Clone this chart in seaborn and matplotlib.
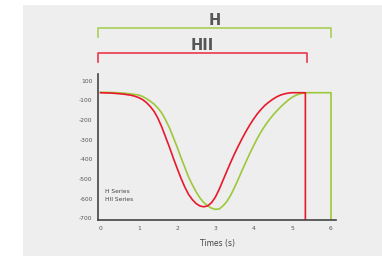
import matplotlib
matplotlib.use("Agg")
import matplotlib.pyplot as plt
import seaborn as sns
import pandas as pd
from matplotlib.patches import Rectangle

# ---- data ----
h_x = [0, 0.3, 0.6, 0.8, 0.9, 1.0, 1.1, 1.2, 1.3, 1.4, 1.5, 1.6, 1.7, 1.8, 1.9, 2.0,
       2.1, 2.2, 2.3, 2.4, 2.5, 2.6, 2.7, 2.8, 2.9, 3.0, 3.1, 3.2, 3.3, 3.4, 3.5, 3.6,
       3.7, 3.8, 3.9, 4.0, 4.1, 4.2, 4.3, 4.4, 4.5, 4.6, 4.7, 4.8, 4.9, 5.0, 5.1, 5.2,
       5.3, 5.4, 6.02, 6.02]
h_y = [-60, -61, -64, -68, -71, -74, -81, -92, -105, -120, -140, -165, -200, -240, -288,
       -337, -390, -440, -490, -530, -566, -597, -620, -636, -648, -654, -652, -636, -614,
       -582, -543, -500, -455, -412, -370, -330, -292, -258, -228, -201, -177, -155, -135,
       -117, -100, -86, -75, -68, -64, -62, -62, -710]
hii_x = [0, 0.3, 0.6, 0.8, 0.9, 1.0, 1.1, 1.2, 1.3, 1.4, 1.5, 1.6, 1.7, 1.8, 1.9, 2.0,
         2.1, 2.2, 2.3, 2.4, 2.5, 2.6, 2.7, 2.8, 2.9, 3.0, 3.1, 3.2, 3.3, 3.4, 3.5, 3.6,
         3.7, 3.8, 3.9, 4.0, 4.1, 4.2, 4.3, 4.4, 4.5, 4.6, 4.7, 4.8, 4.9, 5.0, 5.35, 5.35]
hii_y = [-62, -64, -69, -75, -80, -87, -97, -112, -132, -157, -192, -236, -287, -338,
         -393, -445, -495, -540, -578, -605, -625, -637, -641, -636, -620, -592, -552,
         -506, -460, -415, -372, -332, -294, -258, -225, -195, -168, -145, -125, -109,
         -95, -83, -74, -68, -64, -62, -62, -710]
series_names = ["H Series", "HII Series"]
bracket_labels = ["H", "HII"]
bracket_ends = [6.02, 5.39]
x_ticks = [0, 1, 2, 3, 4, 5, 6]
y_ticks = [0, -100, -200, -300, -400, -500, -600, -700]
y_tick_labels = ["100", "-100", "-200", "-300", "-400", "-500", "-600", "-700"]
x_label = "Times (s)"

green = "#9cc83a"
red = "#e8192c"
panel = "#edeeed"

df = pd.concat([
    pd.DataFrame({"t": h_x, "v": h_y, "s": series_names[0]}),
    pd.DataFrame({"t": hii_x, "v": hii_y, "s": series_names[1]}),
])

fig = plt.figure(figsize=(3.82, 2.56), dpi=100, facecolor="white")
fig.patches.append(Rectangle((23 / 382, 0), 1 - 23 / 382, 1 - 5 / 256,
                             transform=fig.transFigure, facecolor=panel,
                             edgecolor="none", zorder=-10))
ax = fig.add_axes([98.2 / 382, 36 / 256, 237.8 / 382, 146 / 256])
ax.set_facecolor("none")

sns.lineplot(data=df, x="t", y="v", hue="s", sort=False, estimator=None,
             palette={series_names[0]: green, series_names[1]: red},
             linewidth=1.2, legend=False, ax=ax)

ax.set_xlim(-0.06, 6.15)
ax.set_ylim(-708, 33)
ax.set_xticks(x_ticks)
ax.set_xticklabels([str(t) for t in x_ticks])
ax.set_yticks(y_ticks)
ax.set_yticklabels(y_tick_labels)
ax.tick_params(length=0, labelsize=4.3, labelcolor="#555555", pad=4)
for s in ["top", "right"]:
    ax.spines[s].set_visible(False)
for s in ["left", "bottom"]:
    ax.spines[s].set_color("#444444")
    ax.spines[s].set_linewidth(1.2)
ax.set_xlabel(x_label, fontsize=5.5, color="#444444", labelpad=6)
ax.set_ylabel("")

# legend text
ax.text(0.12, -565, series_names[0], fontsize=4.2, color="#444444", va="center")
ax.text(0.12, -605, series_names[1], fontsize=4.2, color="#444444", va="center")

# brackets
bx0 = -0.06
for lab, end, col, ytop, ybot, ytxt in [
    (bracket_labels[0], bracket_ends[0], green, 266, 221, 305),
    (bracket_labels[1], bracket_ends[1], red, 140, 94, 180),
]:
    ax.plot([bx0, bx0, end, end], [ybot, ytop, ytop, ybot], color=col,
            linewidth=1.2, clip_on=False, alpha=0.85)
    ax.text((bx0 + end) / 2, ytxt, lab, ha="center", va="center", fontsize=10.5,
            fontweight="bold", color="#555555", clip_on=False)

fig.savefig("out.png", dpi=100, facecolor="white")
